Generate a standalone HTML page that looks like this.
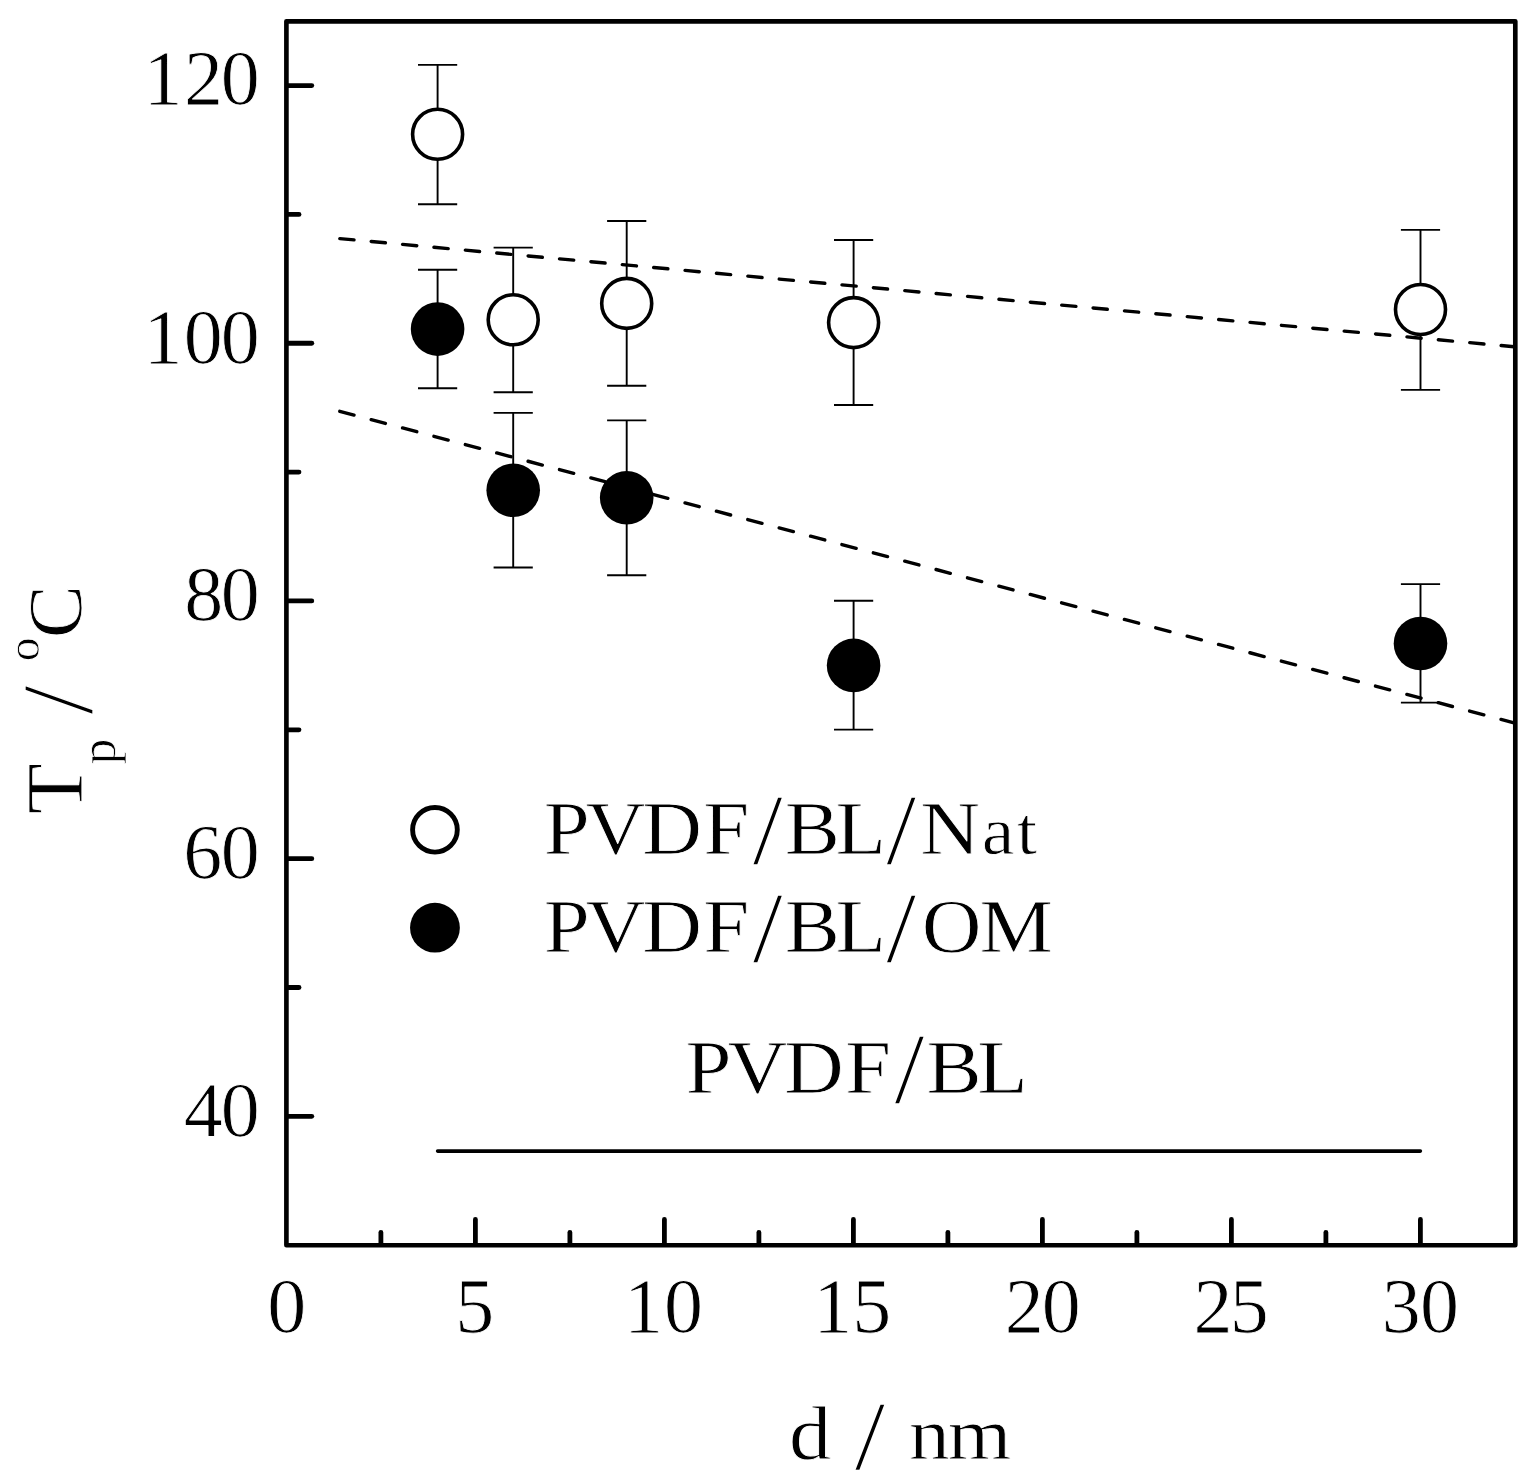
<!DOCTYPE html>
<html lang="en"><head><meta charset="utf-8"><title>Tp vs d</title>
<style>html,body{margin:0;padding:0;background:#fff;overflow:hidden}svg{display:block}text{font-family:"Liberation Serif","DejaVu Serif",serif;fill:#000;stroke:#fff;stroke-width:0.8px;stroke-linejoin:round}.s{stroke-width:1.3px}</style>
</head><body>
<svg width="1539" height="1480" viewBox="0 0 1539 1480">
<rect width="1539" height="1480" fill="#fff"/>
<g fill="none" stroke="#000" stroke-width="3.4" stroke-linecap="round">
<line x1="339.8" y1="238.6" x2="1514" y2="346.74" stroke-dasharray="14.26 17.26"/>
<line x1="339.8" y1="411.3" x2="1514" y2="722.82" stroke-dasharray="14.69 17.78"/>
</g>
<line x1="437.6" y1="1151.1" x2="1420.4" y2="1151.1" stroke="#000" stroke-width="3.6" stroke-linecap="round"/>
<g fill="none" stroke="#000" stroke-width="1.9">
<path d="M418 64.9H457.2M437.6 64.9V204.3M418 204.3H457.2"/>
<path d="M493.6 247.6H532.8M513.2 247.6V392.2M493.6 392.2H532.8"/>
<path d="M607.1 221H646.3M626.7 221V385.7M607.1 385.7H646.3"/>
<path d="M834 240H873.2M853.6 240V405M834 405H873.2"/>
<path d="M1400.9 229.9H1440.1M1420.5 229.9V389.9M1400.9 389.9H1440.1"/>
<path d="M418 269.8H457.2M437.6 269.8V388.3M418 388.3H457.2"/>
<path d="M493.6 412.9H532.8M513.2 412.9V567.5M493.6 567.5H532.8"/>
<path d="M607.1 420.4H646.3M626.7 420.4V575.2M607.1 575.2H646.3"/>
<path d="M834 600.8H873.2M853.6 600.8V729.6M834 729.6H873.2"/>
<path d="M1400.9 584.1H1440.1M1420.5 584.1V702.6M1400.9 702.6H1440.1"/>
</g>
<g fill="#fff" stroke="#000" stroke-width="3.6">
<circle cx="437.6" cy="134.3" r="25"/>
<circle cx="513.2" cy="319.8" r="25"/>
<circle cx="626.7" cy="303.4" r="25"/>
<circle cx="853.6" cy="322.6" r="25"/>
<circle cx="1420.5" cy="309.5" r="25"/>
</g>
<g fill="#000">
<circle cx="437.6" cy="329.1" r="26.8"/>
<circle cx="513.2" cy="490.3" r="26.8"/>
<circle cx="626.7" cy="497.8" r="26.8"/>
<circle cx="853.6" cy="665.4" r="26.8"/>
<circle cx="1420.5" cy="643.5" r="26.8"/>
</g>
<circle cx="434.95" cy="829.8" r="22.35" fill="#fff" stroke="#000" stroke-width="4.9"/>
<circle cx="434.95" cy="927.7" r="24.9" fill="#000"/>
<rect x="286.4" y="21.3" width="1228.9" height="1223.9" fill="none" stroke="#000" stroke-width="4.65" stroke-linejoin="round"/>
<g stroke="#000" stroke-width="4.8" stroke-linecap="round">
<line x1="287.4" y1="1116.35" x2="311.8" y2="1116.35"/>
<line x1="287.4" y1="858.65" x2="311.8" y2="858.65"/>
<line x1="287.4" y1="600.95" x2="311.8" y2="600.95"/>
<line x1="287.4" y1="343.25" x2="311.8" y2="343.25"/>
<line x1="287.4" y1="85.55" x2="311.8" y2="85.55"/>
<line x1="287.4" y1="987.5" x2="299" y2="987.5"/>
<line x1="287.4" y1="729.8" x2="299" y2="729.8"/>
<line x1="287.4" y1="472.1" x2="299" y2="472.1"/>
<line x1="287.4" y1="214.4" x2="299" y2="214.4"/>
<line x1="475.4" y1="1244.2" x2="475.4" y2="1219.4"/>
<line x1="664.4" y1="1244.2" x2="664.4" y2="1219.4"/>
<line x1="853.4" y1="1244.2" x2="853.4" y2="1219.4"/>
<line x1="1042.4" y1="1244.2" x2="1042.4" y2="1219.4"/>
<line x1="1231.4" y1="1244.2" x2="1231.4" y2="1219.4"/>
<line x1="1420.4" y1="1244.2" x2="1420.4" y2="1219.4"/>
<line x1="380.9" y1="1244.2" x2="380.9" y2="1232.4"/>
<line x1="569.9" y1="1244.2" x2="569.9" y2="1232.4"/>
<line x1="758.9" y1="1244.2" x2="758.9" y2="1232.4"/>
<line x1="947.9" y1="1244.2" x2="947.9" y2="1232.4"/>
<line x1="1136.9" y1="1244.2" x2="1136.9" y2="1232.4"/>
<line x1="1325.9" y1="1244.2" x2="1325.9" y2="1232.4"/>
</g>
<g id="yticks">
<text font-size="78px" x="143.46 183.89 220.75" y="104 104 104">120</text>
<text font-size="78px" x="143.46 183.75 220.75" y="363 363 363">100</text>
<text font-size="78px" x="184.3 220.75" y="620 620">80</text>
<text font-size="78px" x="183.19 220.75" y="878 878">60</text>
<text font-size="78px" x="183.65 220.75" y="1136 1136">40</text>
</g>
<g id="xticks">
<text font-size="78px" x="267.25" y="1332">0</text>
<text font-size="78px" x="455.36" y="1332">5</text>
<text font-size="78px" x="623.96 664" y="1332 1332">10</text>
<text font-size="78px" x="813.21 852.21" y="1332 1332">15</text>
<text font-size="78px" x="1004.84 1041.75" y="1332 1332">20</text>
<text font-size="78px" x="1193.54 1229.86" y="1332 1332">25</text>
<text font-size="78px" x="1381.71 1419.95" y="1332 1332">30</text>
</g>
<g id="legend">
<text transform="scale(1.08 1)" font-size="76.6px" x="503.48 542.43 594.67 651.25 696.8 726.61 773.59 820.28 852.16 909.13 941.49" y="854 854 854 854 864 854 854 864 854 854 854">PVDF<tspan class="s" font-size="101px">/</tspan>BL<tspan class="s" font-size="101px">/</tspan>N<tspan font-size="68px">at</tspan></text>
<text transform="scale(1.08 1)" font-size="76.6px" x="503.48 542.43 594.67 651.25 696.8 726.61 773.59 820.28 853.54 906.98" y="952 952 952 952 962 952 952 962 952 952">PVDF<tspan class="s" font-size="101px">/</tspan>BL<tspan class="s" font-size="101px">/</tspan>OM</text>
<text transform="scale(1.08 1)" font-size="76.6px" x="634.69 673.64 725.87 782.45 828.01 857.81 904.79" y="1093 1093 1093 1093 1103 1093 1093">PVDF<tspan class="s" font-size="101px">/</tspan>BL</text>
</g>
<text transform="scale(1.12 1)" font-size="75.5px" x="704.55 742.3 763.03 790.54 811.69 846.23" y="1459 1459 1469 1459 1459 1459">d <tspan class="s" font-size="99px">/</tspan> <tspan font-size="73px">nm</tspan></text>
<text transform="rotate(-90) scale(1.04 1)" font-size="80.5px" x="-782.91 -735.2 -710.2 -687.25 -658.91 -635.95 -613.6" y="81.8 114.7 81.8 92.4 81.8 39.15 81.4">T<tspan font-size="50px">p</tspan> <tspan class="s" font-size="102px">/</tspan> <tspan font-size="46.5px">o</tspan><tspan font-size="77px">C</tspan></text>
</svg></body></html>
